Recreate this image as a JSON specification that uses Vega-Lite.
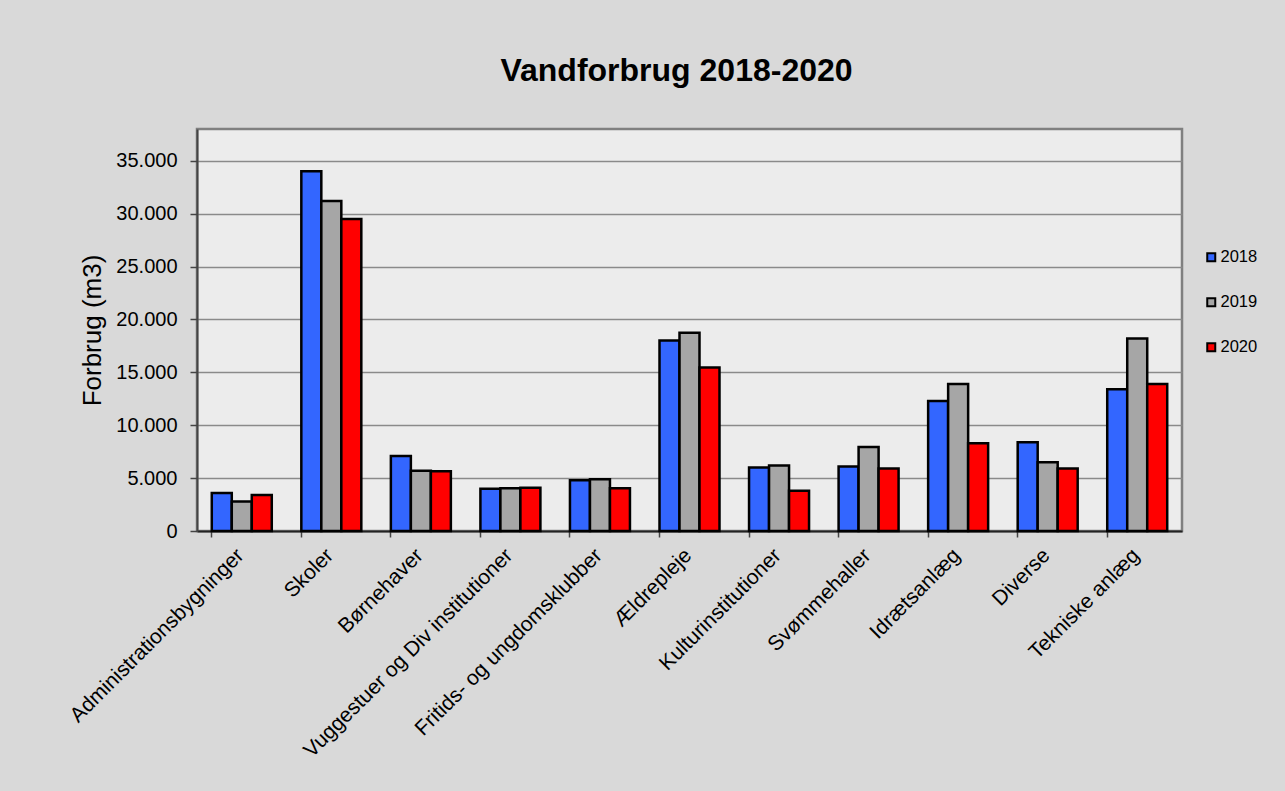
{
  "$schema": "https://vega.github.io/schema/vega-lite/v6.json",
  "autosize": "none",
  "width": 985,
  "height": 402,
  "padding": {"left": 197, "top": 129, "right": 103, "bottom": 260},
  "background": "#D9D9D9",
  "title": {
    "text": "Vandforbrug 2018-2020",
    "font": "Liberation Sans",
    "fontSize": 32,
    "fontWeight": "bold",
    "color": "#000000",
    "anchor": "middle",
    "frame": "group",
    "baseline": "alphabetic",
    "offset": 16,
    "dx": -13
  },
  "data": {
    "values": [
      {"kategori": "Administrationsbygninger", "aar": "2018", "forbrug": 3600},
      {"kategori": "Administrationsbygninger", "aar": "2019", "forbrug": 2800},
      {"kategori": "Administrationsbygninger", "aar": "2020", "forbrug": 3400},
      {"kategori": "Skoler", "aar": "2018", "forbrug": 34000},
      {"kategori": "Skoler", "aar": "2019", "forbrug": 31200},
      {"kategori": "Skoler", "aar": "2020", "forbrug": 29500},
      {"kategori": "Børnehaver", "aar": "2018", "forbrug": 7100},
      {"kategori": "Børnehaver", "aar": "2019", "forbrug": 5700},
      {"kategori": "Børnehaver", "aar": "2020", "forbrug": 5650},
      {"kategori": "Vuggestuer og Div institutioner", "aar": "2018", "forbrug": 4000},
      {"kategori": "Vuggestuer og Div institutioner", "aar": "2019", "forbrug": 4050},
      {"kategori": "Vuggestuer og Div institutioner", "aar": "2020", "forbrug": 4080},
      {"kategori": "Fritids- og ungdomsklubber", "aar": "2018", "forbrug": 4800},
      {"kategori": "Fritids- og ungdomsklubber", "aar": "2019", "forbrug": 4900},
      {"kategori": "Fritids- og ungdomsklubber", "aar": "2020", "forbrug": 4050},
      {"kategori": "Ældrepleje", "aar": "2018", "forbrug": 18000},
      {"kategori": "Ældrepleje", "aar": "2019", "forbrug": 18750},
      {"kategori": "Ældrepleje", "aar": "2020", "forbrug": 15450},
      {"kategori": "Kulturinstitutioner", "aar": "2018", "forbrug": 6000},
      {"kategori": "Kulturinstitutioner", "aar": "2019", "forbrug": 6200},
      {"kategori": "Kulturinstitutioner", "aar": "2020", "forbrug": 3800},
      {"kategori": "Svømmehaller", "aar": "2018", "forbrug": 6100},
      {"kategori": "Svømmehaller", "aar": "2019", "forbrug": 7950},
      {"kategori": "Svømmehaller", "aar": "2020", "forbrug": 5900},
      {"kategori": "Idrætsanlæg", "aar": "2018", "forbrug": 12300},
      {"kategori": "Idrætsanlæg", "aar": "2019", "forbrug": 13900},
      {"kategori": "Idrætsanlæg", "aar": "2020", "forbrug": 8300},
      {"kategori": "Diverse", "aar": "2018", "forbrug": 8400},
      {"kategori": "Diverse", "aar": "2019", "forbrug": 6500},
      {"kategori": "Diverse", "aar": "2020", "forbrug": 5900},
      {"kategori": "Tekniske anlæg", "aar": "2018", "forbrug": 13400},
      {"kategori": "Tekniske anlæg", "aar": "2019", "forbrug": 18200},
      {"kategori": "Tekniske anlæg", "aar": "2020", "forbrug": 13900}
    ]
  },
  "mark": {"type": "bar", "stroke": "#000000", "strokeWidth": 2.5, "strokeJoin": "miter"},
  "encoding": {
    "x": {
      "field": "kategori",
      "type": "nominal",
      "sort": null,
      "scale": {"paddingInner": 0.33, "paddingOuter": 0.165},
      "axis": {
        "title": null,
        "bandPosition": 0,
        "labelAngle": -45,
        "labelAlign": "right",
        "labelBaseline": "middle",
        "labelOffset": -1,
        "labelPadding": 15,
        "labelFont": "Liberation Sans",
        "labelFontSize": 21,
        "labelColor": "#000000",
        "labelOverlap": false,
        "labelBound": false,
        "labelLimit": 0,
        "domainColor": "#222222",
        "domainWidth": 2,
        "tickColor": "#444444",
        "tickWidth": 1.5,
        "tickSize": 6,
        "grid": false
      }
    },
    "xOffset": {"field": "aar", "type": "nominal", "scale": {"paddingInner": 0, "paddingOuter": 0}},
    "y": {
      "field": "forbrug",
      "type": "quantitative",
      "scale": {"domain": [0, 38000], "nice": false, "zero": true},
      "axis": {
        "title": "Forbrug (m3)",
        "titleFont": "Liberation Sans",
        "titleFontSize": 26,
        "titleFontWeight": "normal",
        "titleColor": "#000000",
        "titlePadding": 10,
        "values": [0, 5000, 10000, 15000, 20000, 25000, 30000, 35000],
        "labelExpr": "replace(format(datum.value, ','), ',', '.')",
        "labelFont": "Liberation Sans",
        "labelFontSize": 20,
        "labelColor": "#000000",
        "labelPadding": 13,
        "tickSize": 7,
        "tickColor": "#444444",
        "tickWidth": 1.5,
        "domainColor": "#444444",
        "domainWidth": 2,
        "grid": true,
        "gridColor": "#8A8A8A",
        "gridWidth": 1.5
      }
    },
    "fill": {
      "field": "aar",
      "type": "nominal",
      "scale": {"domain": ["2018", "2019", "2020"], "range": ["#3366FF", "#A6A6A6", "#FF0000"]},
      "legend": {
        "title": null,
        "orient": "none",
        "legendX": 1006,
        "legendY": 120,
        "symbolType": "square",
        "symbolSize": 64,
        "symbolStrokeColor": "#000000",
        "symbolStrokeWidth": 2,
        "symbolOpacity": 1,
        "labelFont": "Liberation Sans",
        "labelFontSize": 16.5,
        "labelColor": "#000000",
        "labelOffset": 1,
        "rowPadding": 28
      }
    }
  },
  "config": {
    "view": {"fill": "#ECECEC", "stroke": "#808080", "strokeWidth": 2.5}
  }
}
